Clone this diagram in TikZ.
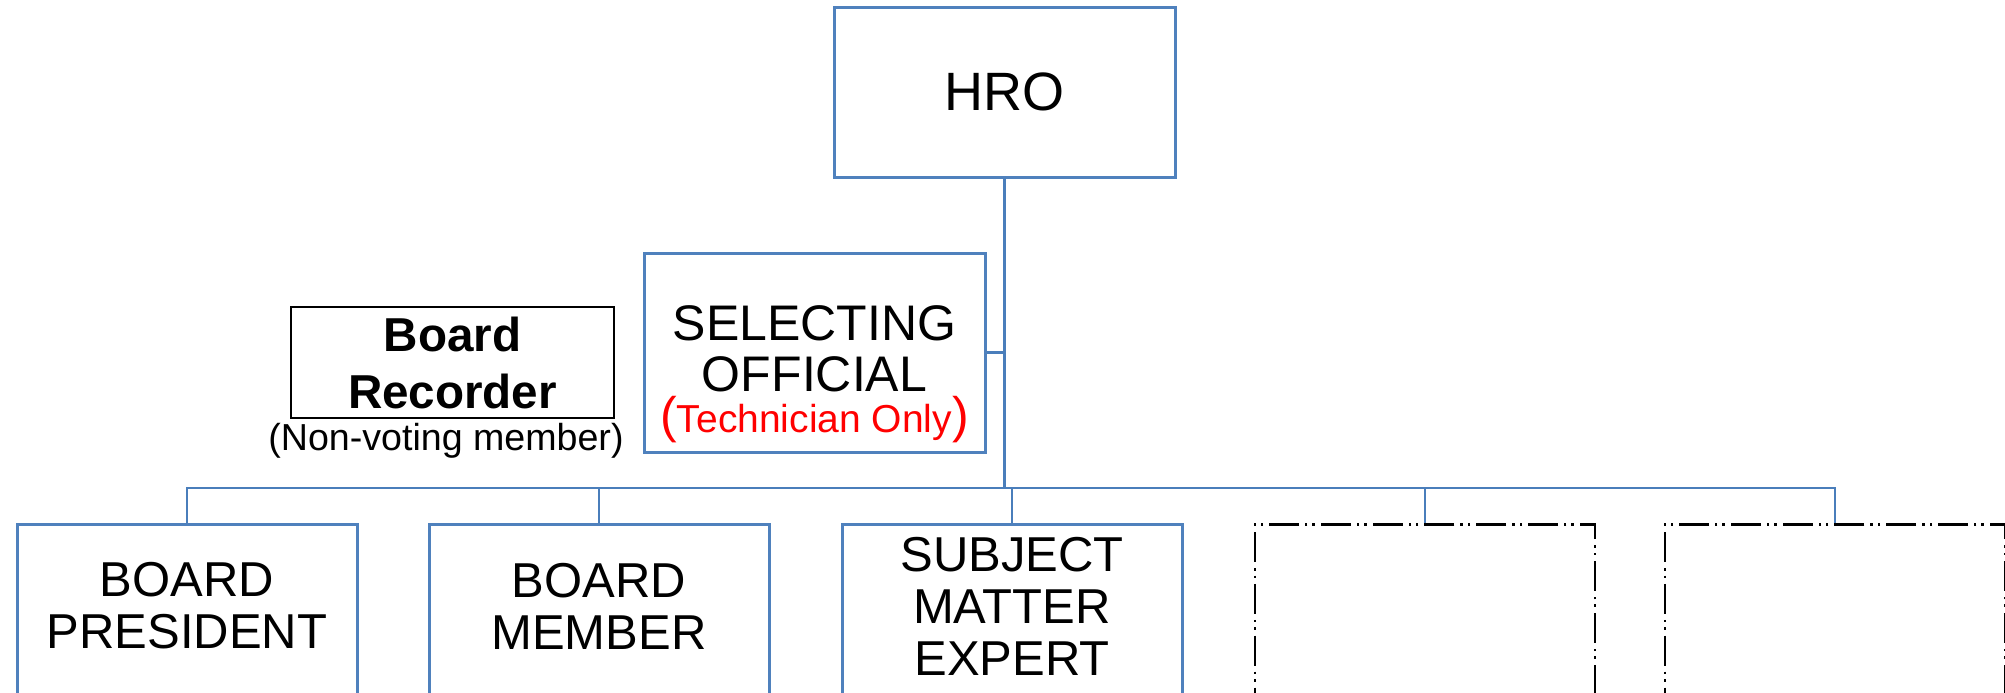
\documentclass[tikz,border=0pt]{standalone}
\usepackage{fontspec}
\setmainfont{Liberation Sans}
\definecolor{boxblue}{HTML}{4F81BD}
\definecolor{linkblue}{HTML}{4A7EBB}
\begin{document}
\begin{tikzpicture}[x=0.5pt,y=-0.5pt,
  box/.style={draw=boxblue, line width=1.5pt, rectangle, inner sep=0pt},
  dbox/.style={draw=black, line width=1.3pt, dash pattern=on 15pt off 3pt on 1.2pt off 2.5pt on 1.2pt off 3pt, rectangle, inner sep=0pt},
  conn/.style={draw=linkblue, line width=1.4pt},
  lbl/.style={align=center, font=\fontsize{24.5}{26}\selectfont, inner sep=0pt},
  selbl/.style={align=center, font=\fontsize{25}{25.5}\selectfont, inner sep=0pt}]
\useasboundingbox (0,0) rectangle (2005,692);
\clip (0,0) rectangle (2005,692);
% top
\node[box, minimum width=170.5pt, minimum height=85pt, font=\fontsize{27}{28}\selectfont] (hro) at (1004.5,92) {HRO};
\node[box, minimum width=170.5pt, minimum height=99.5pt] (sel) at (814.5,352.5) {};
\node[selbl] (seltxt) at (814.5,349) {SELECTING\\OFFICIAL};
\node[inner sep=0pt, anchor=base, text=red, font=\fontsize{19.5}{20}\selectfont] (seltech) at (814.5,432)
  {{\fontsize{25}{25}\selectfont(}Technician Only{\fontsize{25}{25}\selectfont)}};
\node[draw=black, line width=1.2pt, minimum width=161.5pt, minimum height=55.5pt, inner sep=0pt, align=center,
  font=\fontsize{23.8}{28.5}\selectfont\bfseries] (rec) at (452.5,362.5) {Board\\Recorder};
\node[inner sep=0pt, font=\fontsize{18.8}{20}\selectfont] (recnote) at (446,441) {(Non-voting member)};
% bottom boxes
\node[box, anchor=north, minimum width=170pt, minimum height=200pt] (b1) at (187,523) {};
\node[box, anchor=north, minimum width=170pt, minimum height=200pt] (b2) at (599,523) {};
\node[box, anchor=north, minimum width=170pt, minimum height=200pt] (b3) at (1012,523) {};
\node[dbox, anchor=north, minimum width=170pt, minimum height=200pt] (b4) at (1425,523) {};
\node[dbox, anchor=north, minimum width=170pt, minimum height=200pt] (b5) at (1835,523) {};
\node[lbl] (t1) at (187,606) {BOARD\\PRESIDENT};
\node[lbl] (t2) at (599,606) {BOARD\\MEMBER};
\node[lbl] (t3) at (1012,606) {SUBJECT\\MATTER\\EXPERT};
% connectors
\coordinate (busY) at (0,488);
\draw[conn] (hro.south) -- (hro.south |- busY);
\draw[conn] (sel.east) -- (sel.east -| hro.south);
\draw[conn] (b1.north) |- (b5.north |- busY) -- (b5.north);
\draw[conn] (b2.north) -- (b2.north |- busY);
\draw[conn] (b3.north) -- (b3.north |- busY);
\draw[conn] (b4.north) -- (b4.north |- busY);
\end{tikzpicture}
\end{document}
